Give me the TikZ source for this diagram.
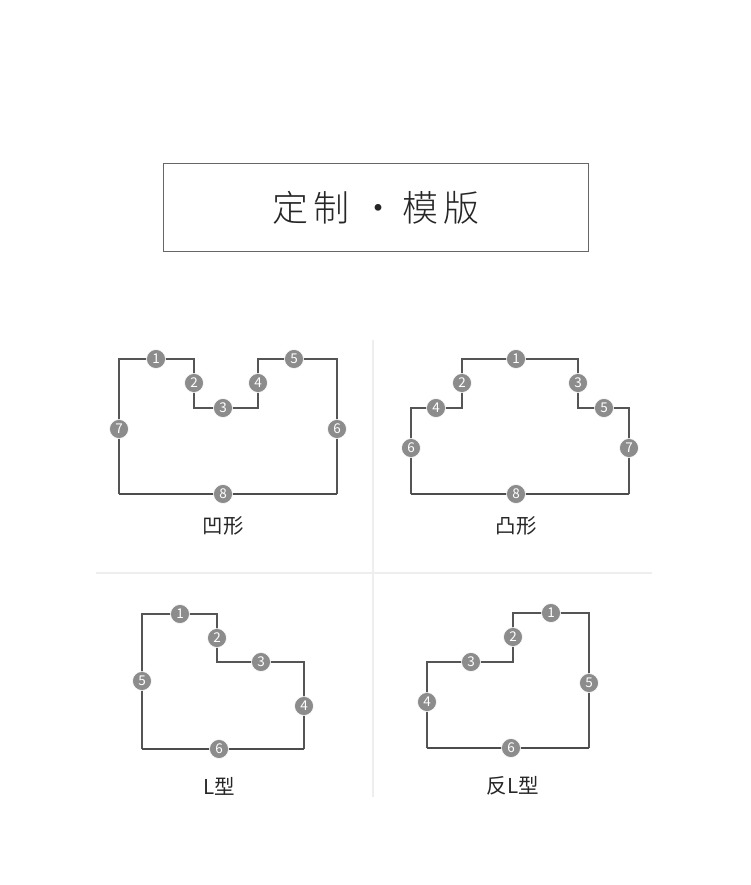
\documentclass[tikz,border=0pt]{standalone}
\usepackage{fontspec}
\setmainfont{Noto Sans CJK SC}
\newfontfamily\cjk{Noto Sans CJK SC}
\IfFontExistsTF{Noto Sans CJK SC Light}
  {\newfontfamily\cjklight{Noto Sans CJK SC Light}}
  {\newfontfamily\cjklight{Noto Sans CJK SC}}
\definecolor{edge}{HTML}{555555}
\definecolor{dotfill}{HTML}{8C8C8C}
\definecolor{divider}{HTML}{EEEEEE}
\definecolor{framecol}{HTML}{666666}
\begin{document}
\begin{tikzpicture}[x=1pt,y=-1pt,
  outline/.style={draw=edge,line width=1.4pt,line join=miter},
  baseline/.style={draw=edge!90!black,line width=2pt},
  numdot/.style={circle,fill=dotfill,draw=white,line width=0.6pt,minimum size=19pt,inner sep=0pt,text=white,font=\fontsize{13.5}{13.5}\selectfont},
  caption/.style={font=\cjk\fontsize{20.5}{20.5}\selectfont,text=black!85},
  sep/.style={draw=divider,line width=1.5pt}]
\useasboundingbox (0,0) rectangle (750,885);
\fill[white] (0,0) rectangle (750,885);
% title
\node[draw=framecol,line width=1pt,minimum width=425pt,minimum height=87pt,inner sep=0pt] (title) at (375.5,207.5) {};
\node[font=\cjklight\fontsize{36}{36}\selectfont,text=black!85] (titletext) at (376,208) {定\hspace{6pt}制\hspace{11pt}·\hspace{5pt}模\hspace{6pt}版};
% dividers
\coordinate (vtop) at (373,340);
\coordinate (vbot) at (373,797);
\coordinate (hl) at (96,573);
\coordinate (hr) at (652,573);
\draw[sep] (vtop) -- (vbot);
\draw[sep] (hl) -- (hr);
% shape 1: 凹形
\draw[outline] (119,494) -- (119,359) -- (194,359) -- (194,408) -- (258,408) -- (258,359) -- (337,359) -- (337,494);
\draw[baseline] (119,494) -- (337,494);
\node[numdot] (a1) at (156,359) {1};
\node[numdot] (a2) at (194,383) {2};
\node[numdot] (a3) at (223,408) {3};
\node[numdot] (a4) at (258,383) {4};
\node[numdot] (a5) at (294,359) {5};
\node[numdot] (a6) at (337,429) {6};
\node[numdot] (a7) at (119,429) {7};
\node[numdot] (a8) at (223,494) {8};
\node[caption] (ca) at (223,526) {凹形};
% shape 2: 凸形
\draw[outline] (411,494) -- (411,408) -- (462,408) -- (462,359) -- (578,359) -- (578,408) -- (629,408) -- (629,494);
\draw[baseline] (411,494) -- (629,494);
\node[numdot] (b1) at (516,359) {1};
\node[numdot] (b2) at (462,383) {2};
\node[numdot] (b3) at (578,383) {3};
\node[numdot] (b4) at (436,408) {4};
\node[numdot] (b5) at (604,408) {5};
\node[numdot] (b6) at (411,448) {6};
\node[numdot] (b7) at (629,448) {7};
\node[numdot] (b8) at (516,494) {8};
\node[caption] (cb) at (516,526) {凸形};
% shape 3: L型
\draw[outline] (142,749) -- (142,614) -- (217,614) -- (217,662) -- (304,662) -- (304,749);
\draw[baseline] (142,749) -- (304,749);
\node[numdot] (c1) at (180,614) {1};
\node[numdot] (c2) at (217,638) {2};
\node[numdot] (c3) at (261,662) {3};
\node[numdot] (c4) at (304,706) {4};
\node[numdot] (c5) at (142,681) {5};
\node[numdot] (c6) at (219,749) {6};
\node[caption] (cc) at (219,786) {L型};
% shape 4: 反L型
\draw[outline] (427,748) -- (427,662) -- (513,662) -- (513,613) -- (589,613) -- (589,748);
\draw[baseline] (427,748) -- (589,748);
\node[numdot] (d1) at (551,613) {1};
\node[numdot] (d2) at (513,637) {2};
\node[numdot] (d3) at (471,662) {3};
\node[numdot] (d4) at (427,702) {4};
\node[numdot] (d5) at (589,683) {5};
\node[numdot] (d6) at (511,748) {6};
\node[caption] (cd) at (513,786) {反L型};
\end{tikzpicture}
\end{document}
